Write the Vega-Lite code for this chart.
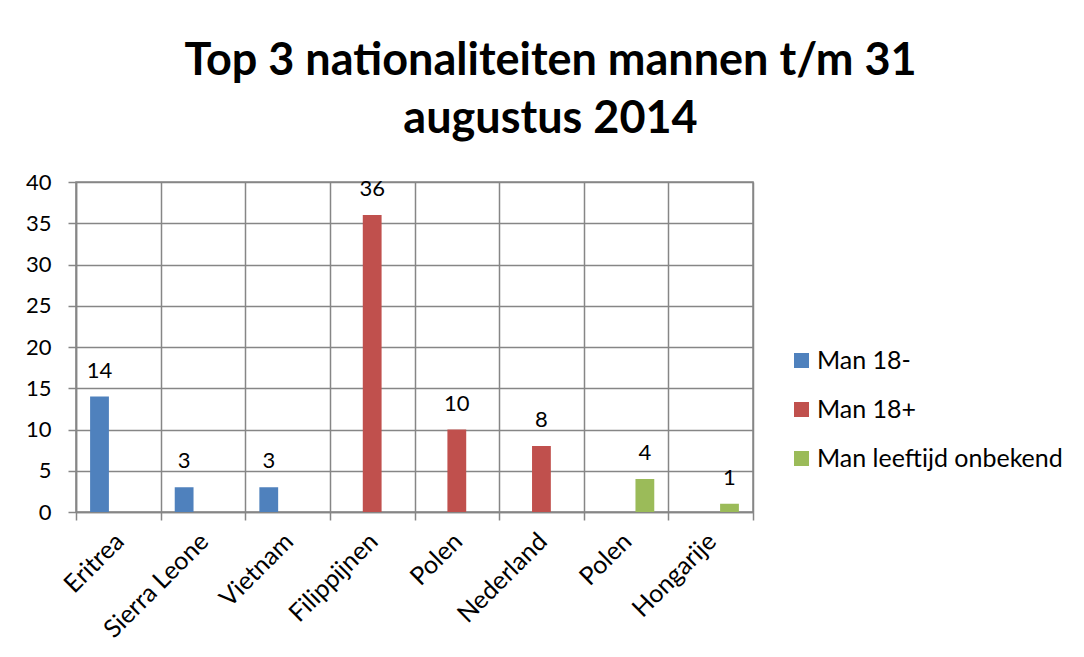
{
  "$schema": "https://vega.github.io/schema/vega-lite/v6.json",
  "width": 677,
  "height": 330,
  "padding": {"left": 25, "top": 39, "right": 5, "bottom": 5},
  "background": "white",
  "title": {
    "text": ["Top 3 nationaliteiten mannen t/m 31", "augustus 2014"],
    "font": "Lato",
    "fontSize": 45,
    "fontWeight": "bold",
    "color": "black",
    "lineHeight": 58,
    "anchor": "middle",
    "dx": 136,
    "offset": 29
  },
  "config": {
    "view": {"stroke": "#868686", "strokeWidth": 1.5},
    "axis": {"gridWidth": 1.5, "tickWidth": 1.5, "domainWidth": 1.5}
  },
  "data": {
    "values": [
      {"id": "1 Eritrea", "serie": "Man 18-", "aantal": 14},
      {"id": "2 Sierra Leone", "serie": "Man 18-", "aantal": 3},
      {"id": "3 Vietnam", "serie": "Man 18-", "aantal": 3},
      {"id": "4 Filippijnen", "serie": "Man 18+", "aantal": 36},
      {"id": "5 Polen", "serie": "Man 18+", "aantal": 10},
      {"id": "6 Nederland", "serie": "Man 18+", "aantal": 8},
      {"id": "7 Polen", "serie": "Man leeftijd onbekend", "aantal": 4},
      {"id": "8 Hongarije", "serie": "Man leeftijd onbekend", "aantal": 1}
    ]
  },
  "encoding": {
    "x": {
      "field": "id",
      "type": "nominal",
      "sort": "ascending",
      "scale": {"paddingInner": 0, "paddingOuter": 0},
      "axis": {
        "title": null,
        "labelExpr": "substring(datum.label, 2)",
        "labelAngle": -45,
        "labelAlign": "right",
        "labelBaseline": "middle",
        "labelFont": "Lato",
        "labelFontSize": 25,
        "labelColor": "black",
        "labelPadding": 17,
        "labelOffset": 1,
        "labelLimit": 0,
        "tickBand": "extent",
        "grid": true,
        "gridColor": "#868686",
        "tickColor": "#868686",
        "tickSize": 8,
        "domainColor": "#868686"
      }
    },
    "xOffset": {
      "field": "serie",
      "type": "nominal",
      "scale": {
        "domain": ["Man 18-", "Man 18+", "Man leeftijd onbekend"],
        "paddingInner": 0,
        "paddingOuter": 0.75
      }
    },
    "y": {
      "field": "aantal",
      "type": "quantitative",
      "scale": {"domain": [0, 40], "nice": false},
      "axis": {
        "title": null,
        "values": [0, 5, 10, 15, 20, 25, 30, 35, 40],
        "labelFont": "Lato",
        "labelFontSize": 22,
        "labelColor": "black",
        "labelPadding": 17,
        "grid": true,
        "gridColor": "#868686",
        "tickColor": "#868686",
        "tickSize": 8,
        "domainColor": "#868686"
      }
    }
  },
  "layer": [
    {
      "mark": {"type": "bar"},
      "encoding": {
        "color": {
          "field": "serie",
          "type": "nominal",
          "scale": {
            "domain": ["Man 18-", "Man 18+", "Man leeftijd onbekend"],
            "range": ["#4F81BD", "#C0504D", "#9BBB59"]
          },
          "legend": {
            "title": null,
            "orient": "none",
            "legendX": 713,
            "legendY": 166,
            "symbolType": "square",
            "symbolSize": 225,
            "symbolStrokeWidth": 0,
            "labelFont": "Lato",
            "labelFontSize": 25,
            "labelColor": "black",
            "labelOffset": 3,
            "labelLimit": 0,
            "rowPadding": 23
          }
        }
      }
    },
    {
      "mark": {
        "type": "text",
        "baseline": "alphabetic",
        "dy": -19,
        "font": "Lato",
        "fontSize": 22,
        "color": "black"
      },
      "encoding": {"text": {"field": "aantal", "type": "quantitative"}}
    }
  ]
}
